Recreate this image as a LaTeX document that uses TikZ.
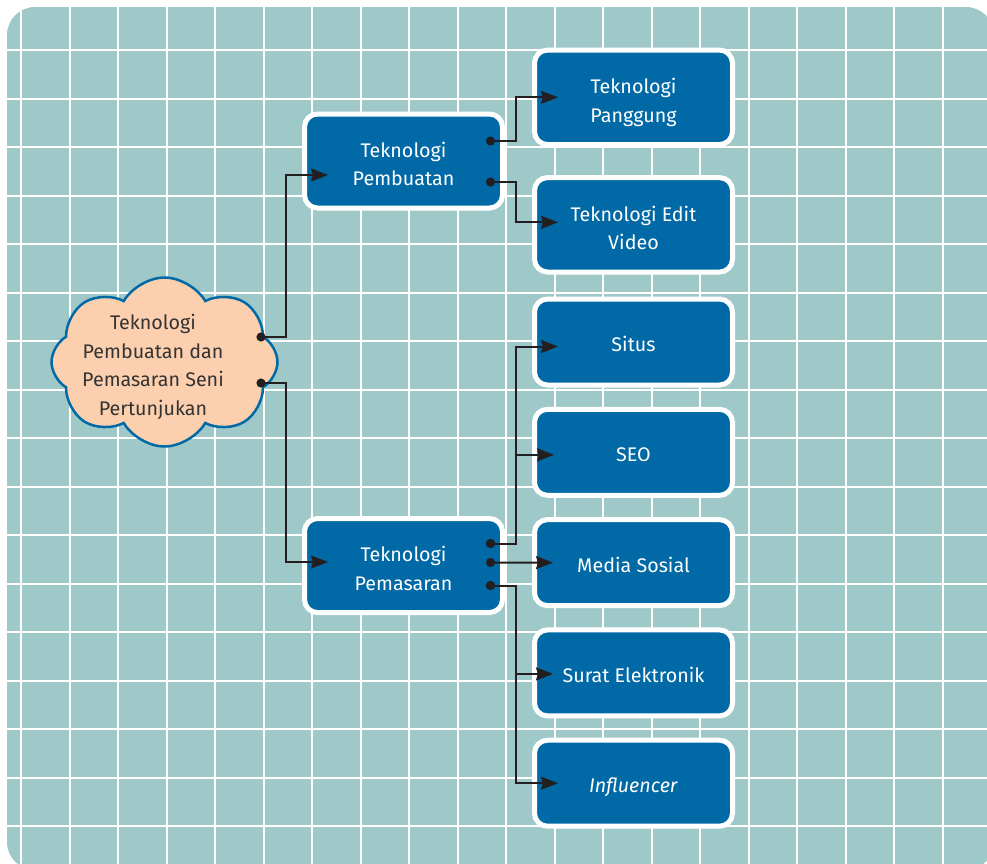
\documentclass[tikz,border=0pt]{standalone}
\usepackage{fontspec}
\setmainfont{Fira Sans}
\usepackage{xcolor}
\usetikzlibrary{positioning}
\usetikzlibrary{shapes.symbols}
\usetikzlibrary{arrows.meta}
\definecolor{panelteal}{HTML}{9FC9C8}
\definecolor{boxblue}{HTML}{0069A6}
\definecolor{cloudfill}{HTML}{FCD0AE}
\definecolor{inkdark}{HTML}{231F20}
\definecolor{textdark}{HTML}{333333}

\begin{document}
\begin{tikzpicture}[
  x=1pt, y=-1pt,
  font=\fontsize{19.7}{28.5}\selectfont,
  box/.style={draw=white, line width=5pt, fill=boxblue, rounded corners=13pt, text=white, align=center, minimum width=198pt, minimum height=86pt, inner sep=0pt, text height=19pt, text depth=0pt},
  midbox/.style={box, minimum height=94pt, text height=49.5pt},
  tallbox/.style={box, minimum height=94.5pt, text height=50pt},
  hub/.style={cloud, cloud puffs=8, cloud puff arc=120, draw=boxblue, line width=2.5pt, fill=cloudfill, text=textdark, minimum width=226pt, minimum height=169pt, inner xsep=-60pt, inner ysep=-45pt, text height=67pt, text depth=47pt},
  arrow/.style={{Circle[length=9pt]}-{Stealth[length=17pt, width=13pt, inset=2pt]}, line width=2pt, draw=inkdark},
  gridline/.style={white, line width=2pt}
]

\useasboundingbox (0,0) rectangle (987,863);
\fill[white] (0,0) rectangle (987,863);

% panel and grid
\begin{scope}
  \clip (0,0) rectangle (987,863);
  \fill[panelteal, rounded corners=28pt] (7,7) rectangle (994,870);
  \clip[rounded corners=28pt] (7,7) rectangle (994,870);
  \foreach \gx in {0,...,19} \draw[gridline] (21+48.5*\gx,0) -- (21+48.5*\gx,880);
  \foreach \gy in {0,...,16} \draw[gridline] (0,50+48.5*\gy) -- (1000,50+48.5*\gy);
\end{scope}

\node[hub] (root) at (164.5,362) {\begin{tabular}{@{}c@{\hspace{23pt}}}Teknologi\\Pembuatan dan\\Pemasaran Seni\\Pertunjukan\end{tabular}};

\node[midbox] (pembuatan) at (403.5,161) {Teknologi\\Pembuatan};
\node[midbox] (pemasaran) at (403.5,565.5) {Teknologi\\Pemasaran};

\node[tallbox] (panggung) at (633.5,97.3) {Teknologi\\Panggung};
\node[tallbox, below=28pt of panggung] (editvideo) {Teknologi Edit\\Video};

\node[box] (situs) at (633.5,342) {Situs};
\node[box, below=19.3pt of situs] (seo) {SEO};
\node[box, below=19.3pt of seo] (media) {Media Sosial};
\node[box, below=19.3pt of media] (surat) {Surat Elektronik};
\node[box, below=19.3pt of surat] (influencer) {\textit{Influencer}};

\draw[arrow] ([xshift=92pt,yshift=25pt]root.center) -- ++(29.5,0) |- ([xshift=26pt,yshift=-14pt]pembuatan.west);
\draw[arrow] ([xshift=92pt,yshift=-21pt]root.center) -- ++(29.5,0) |- ([xshift=26pt,yshift=3.5pt]pemasaran.west);

\draw[arrow] ([xshift=-19pt,yshift=20pt]pembuatan.east) -- ++(29.5,0) |- ([xshift=26pt]panggung.west);
\draw[arrow] ([xshift=-19pt,yshift=-21pt]pembuatan.east) -- ++(29.5,0) |- ([xshift=26pt,yshift=2.5pt]editvideo.west);

% marketing branches
\draw[arrow] ([xshift=-19pt,yshift=22pt]pemasaran.east) -- ++(29.5,0) |- ([xshift=26pt,yshift=-4.5pt]situs.west);
\draw[arrow] ([xshift=-19pt,yshift=22pt]pemasaran.east) -- ++(29.5,0) |- ([xshift=22pt,yshift=-2.5pt]seo.west);
\draw[arrow] ([xshift=-19pt,yshift=3pt]pemasaran.east) -- ([xshift=21pt]media.west);
\draw[arrow] ([xshift=-19pt,yshift=-20pt]pemasaran.east) -- ++(29.5,0) |- ([xshift=21pt,yshift=-1pt]surat.west);
\draw[arrow] ([xshift=-19pt,yshift=-20pt]pemasaran.east) -- ++(29.5,0) |- ([xshift=26pt]influencer.west);

\end{tikzpicture}
\end{document}
